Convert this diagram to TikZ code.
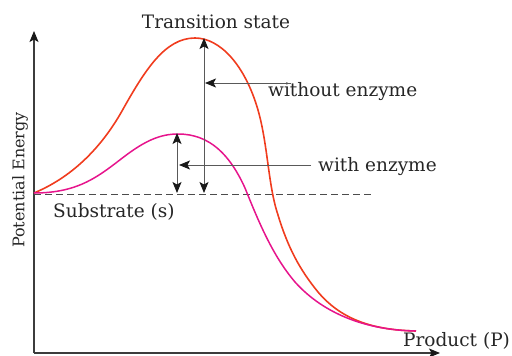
\documentclass[tikz,border=0pt]{standalone}
\usepackage{fontspec}
\setmainfont{DejaVu Serif}
\usetikzlibrary{arrows.meta}
\definecolor{redc}{RGB}{240,60,30}
\definecolor{pinkc}{RGB}{230,20,140}
\definecolor{axc}{RGB}{60,60,60}
\tikzset{hd/.tip={Stealth[length=11pt,width=9pt,inset=2.5pt,color=black!90]}}
\begin{document}
\begin{tikzpicture}[x=1pt,y=-1pt,
  lbl/.style={inner sep=0pt,text=black!85,font=\fontsize{18.5}{20}\selectfont},
  tip/.style={-hd},
  dtip/.style={hd-hd},
  axis/.style={axc,line width=1.1pt},
  pointer/.style={black!65,line width=1pt}]
\useasboundingbox (0,0) rectangle (512,356);
% axes
\coordinate (o) at (34,353);
\coordinate (ytop) at (34,31);
\coordinate (xend) at (440,353);
\draw[axis,-hd] (o) -- (ytop);
\draw[axis,-hd] (o) -- (xend);
% substrate dashed line
\coordinate (s0) at (34,194);
\coordinate (s1) at (374,194);
\draw[black!70,line width=0.9pt,dash pattern=on 7pt off 4pt] (s0) -- (s1);
% red curve (without enzyme)
\draw[redc,line width=1.6pt] (34,193) .. controls (70,178) and (100,150) .. (122,111)
  .. controls (145,70) and (165,38) .. (195,38)
  .. controls (220,38) and (245,65) .. (258,110)
  .. controls (268,145) and (268,185) .. (278,215)
  .. controls (288,248) and (300,270) .. (318,292)
  .. controls (340,318) and (370,330) .. (416,331);
% pink curve (with enzyme)
\draw[pinkc,line width=1.5pt] (34,193) .. controls (80,193) and (100,175) .. (125,156)
  .. controls (145,141) and (160,134) .. (178,134)
  .. controls (210,134) and (230,155) .. (245,188)
  .. controls (258,220) and (272,255) .. (295,282)
  .. controls (320,310) and (360,330) .. (416,331);
% double arrows
\coordinate (wt) at (204,38);
\coordinate (wb) at (204,193);
\coordinate (et) at (177,133);
\coordinate (eb) at (177,193);
\draw[pointer,dtip] (wb) -- (wt);
\draw[pointer,dtip] (eb) -- (et);
% labels
\node[lbl,anchor=base] (ts) at (216,28) {Transition state};
\node[lbl,anchor=west] (wo) at (268,92) {without enzyme};
\node[lbl,anchor=west] (we) at (318,167) {with enzyme};
\node[lbl,anchor=west] (sub) at (53,212) {Substrate (s)};
\node[lbl,anchor=west] (prod) at (403,341) {Product (P)};
\node[lbl,rotate=90,font=\fontsize{16}{18}\selectfont] (pe) at (20,180) {Potential Energy};
% pointers
\coordinate (wop) at (291,83);
\coordinate (wopt) at (205,83);
\coordinate (wep) at (311,165);
\coordinate (wept) at (179,165);
\draw[pointer,tip] (wop) -- (wopt);
\draw[pointer,tip] (wep) -- (wept);
\end{tikzpicture}
\end{document}
